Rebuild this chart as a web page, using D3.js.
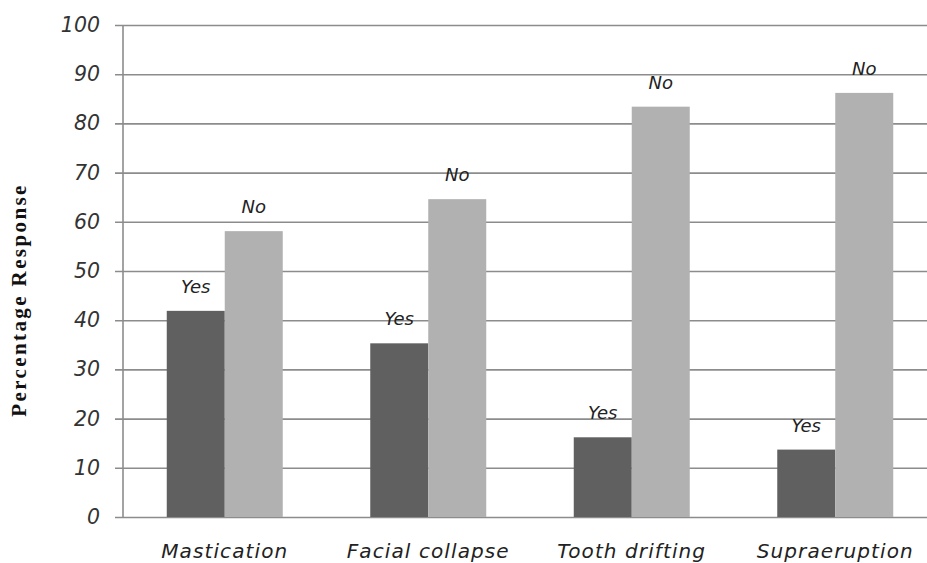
<!DOCTYPE html>
<html>
<head>
<meta charset="utf-8">
<script src="https://cdn.jsdelivr.net/npm/d3@7"></script>
<style>
  body { margin: 0; background: #fff; }
</style>
</head>
<body>
<div id="chart"></div>
<script>
const categories = ['Mastication', 'Facial collapse', 'Tooth drifting', 'Supraeruption']
const series = ['Yes', 'No']
const yesValues = [41.9, 35.3, 16.2, 13.7]
const noValues = [58.1, 64.6, 83.4, 86.2]
const yTicks = [0, 10, 20, 30, 40, 50, 60, 70, 80, 90, 100]

const width = 927, height = 563
const plotLeft = 123, plotRight = 937, plotTop = 25, plotBottom = 517

const svg = d3.select('#chart')
  .append('svg')
  .attr('width', width)
  .attr('height', height)

const x = d3.scaleBand()
  .domain(categories)
  .range([plotLeft, plotRight])
  .paddingInner(0.43)
  .paddingOuter(0.215)

const xInner = d3.scaleBand()
  .domain(series)
  .range([0, x.bandwidth()])

const y = d3.scaleLinear()
  .domain([0, 100])
  .range([plotBottom, plotTop])

// gridlines + tick marks
const yAxis = d3.axisLeft(y)
  .tickValues(yTicks)
  .tickSize(-(width - plotLeft))
  .tickPadding(23)

const gy = svg.append('g')
  .attr('transform', `translate(${plotLeft},0)`)
  .call(yAxis)

gy.select('.domain').remove()
gy.selectAll('.tick line')
  .attr('x1', -8)
  .attr('stroke', '#8c8c8c')
  .attr('stroke-width', 1.6)
gy.selectAll('.tick text')
  .attr('fill', '#333')
  .attr('font-family', 'DejaVu Sans')
  .attr('font-style', 'italic')
  .attr('font-size', '20.5px')

// vertical axis line
svg.append('line')
  .attr('x1', plotLeft).attr('x2', plotLeft)
  .attr('y1', y(100)).attr('y2', y(0))
  .attr('stroke', '#8c8c8c')
  .attr('stroke-width', 1.6)

const rows = categories.map((c, i) => ({cat: c, Yes: yesValues[i], No: noValues[i]}))
const colors = {Yes: '#606060', No: '#b1b1b1'}

const groups = svg.selectAll('.grp')
  .data(rows)
  .join('g')
  .attr('class', 'grp')
  .attr('transform', d => `translate(${x(d.cat)},0)`)

groups.selectAll('rect')
  .data(d => series.map(s => ({key: s, value: d[s]})))
  .join('rect')
  .attr('x', d => xInner(d.key))
  .attr('width', xInner.bandwidth())
  .attr('y', d => y(d.value))
  .attr('height', d => y(0) - y(d.value))
  .attr('fill', d => colors[d.key])

groups.selectAll('.lbl')
  .data(d => series.map(s => ({key: s, value: d[s]})))
  .join('text')
  .attr('class', 'lbl')
  .attr('x', d => xInner(d.key) + xInner.bandwidth() / 2)
  .attr('y', d => y(d.value) - 18)
  .attr('text-anchor', 'middle')
  .attr('fill', '#222')
  .attr('font-family', 'DejaVu Sans')
  .attr('font-style', 'italic')
  .attr('font-size', '18px')
  .text(d => d.key)

// category labels
svg.selectAll('.cat')
  .data(categories)
  .join('text')
  .attr('class', 'cat')
  .attr('x', d => x(d) + x.bandwidth() / 2)
  .attr('y', 558)
  .attr('text-anchor', 'middle')
  .attr('fill', '#222')
  .attr('font-family', 'DejaVu Sans')
  .attr('font-style', 'italic')
  .attr('font-size', '20px')
  .attr('letter-spacing', '1.1px')
  .text(d => d)

// y axis title
svg.append('text')
  .attr('transform', `translate(26,300) rotate(-90)`)
  .attr('text-anchor', 'middle')
  .attr('fill', '#111')
  .attr('font-family', 'Liberation Serif')
  .attr('font-weight', 'bold')
  .attr('font-size', '21px')
  .attr('letter-spacing', '2.4px')
  .text('Percentage Response')
</script>
</body>
</html>
